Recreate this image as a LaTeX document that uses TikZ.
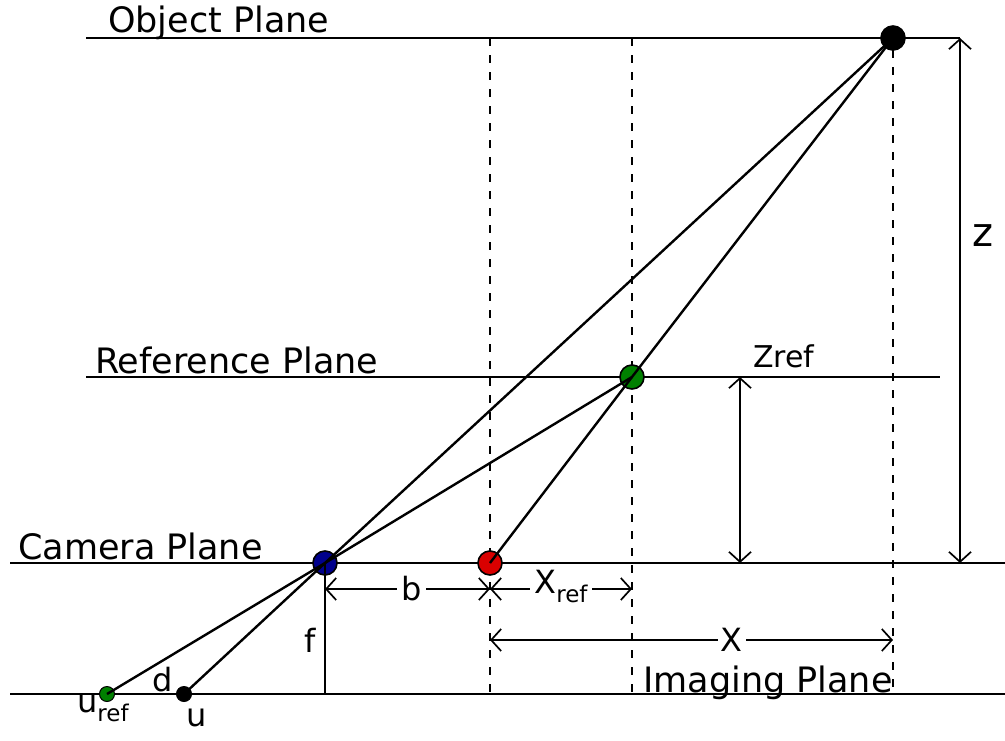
\documentclass[tikz,border=0pt]{standalone}
\usepackage{fontspec}
\setmainfont{DejaVu Sans}
\usetikzlibrary{arrows.meta}

\begin{document}
\begin{tikzpicture}[x=1pt, y=-1pt,
    ebene/.style={line width=2.4pt},
    strahl/.style={line width=2.4pt},
    hilfslinie/.style={line width=2.2pt, dash pattern=on 8pt off 9pt},
    mass/.style={line width=1.7pt, {Straight Barb[length=10pt,width=22pt]}-{Straight Barb[length=10pt,width=22pt]}},
    punkt/.style={circle, draw, line width=1.6pt, minimum size=24pt, inner sep=0pt},
    kleinpunkt/.style={circle, draw, line width=1pt, minimum size=15pt, inner sep=0pt},
    titel/.style={font=\fontsize{35}{42}\selectfont, inner sep=0pt, anchor=base west},
    beschr/.style={font=\fontsize{32}{38}\selectfont, inner sep=0pt}]

    \useasboundingbox (0,0) rectangle (1005,740);

    % Ebenen
    \draw[ebene] (86,38) -- (960,38);
    \draw[ebene] (86,377) -- (940,377);
    \draw[ebene] (10,563) -- (1005,563);
    \draw[ebene] (10,694) -- (1005,694);

    % gestrichelte Senkrechten
    \draw[hilfslinie] (490,38) -- (490,694);
    \draw[hilfslinie] (632,38) -- (632,694);
    \draw[hilfslinie] (893,50) -- (893,694);

    % Punkte
    \node[punkt, fill=black] (obj) at (893,38) {};
    \node[punkt, fill=green!50!black] (ref) at (632,377) {};
    \node[punkt, fill=blue!55!black] (cam) at (325,563) {};
    \node[punkt, fill=red!85!black] (red) at (490,563) {};
    \node[kleinpunkt, fill=green!50!black] (uref) at (107,694) {};
    \node[kleinpunkt, fill=black] (u) at (184,694) {};
    \coordinate (fuss) at (325,694);

    % Strahlen
    \draw[strahl] (obj.center) -- (cam.center) -- (u.center);
    \draw[strahl] (ref.center) -- (cam.center) -- (uref.center);
    \draw[strahl] (obj.center) -- (ref.center) -- (red.center);
    \draw[strahl] (cam.center) -- (fuss);

    % Bemassung
    \coordinate (b1) at (325,589);
    \coordinate (b2) at (490,589);
    \coordinate (b3) at (632,589);
    \coordinate (x1) at (490,640);
    \coordinate (x2) at (893,640);
    \coordinate (zr1) at (740,377);
    \coordinate (zr2) at (740,563);
    \coordinate (z1) at (960,38);
    \coordinate (z2) at (960,563);
    \draw[mass] (b1) -- node[beschr, fill=white, inner xsep=4pt, xshift=4pt] (lb) {b} (b2);
    \draw[mass] (b2) -- node[beschr, fill=white, inner xsep=4pt, yshift=3pt] (lxref) {X\raisebox{-9pt}{\fontsize{23}{25}\selectfont ref}} (b3);
    \draw[mass] (x1) -- node[beschr, fill=white, inner xsep=3pt, pos=0.6] (lx) {X} (x2);
    \draw[mass] (zr1) -- (zr2);
    \draw[mass] (z1) -- (z2);

    % Beschriftungen
    \node[titel] (tobj) at (108,32) {Object Plane};
    \node[titel] (tref) at (95,373) {Reference Plane};
    \node[titel] (tcam) at (18,559) {Camera Plane};
    \node[titel] (timg) at (643,692) {Imaging Plane};
    \node[beschr, font=\fontsize{30}{36}\selectfont, anchor=base west] (lzref) at (753,367) {Zref};
    \node[beschr, font=\fontsize{40}{46}\selectfont] (lz) at (983,236) {z};
    \node[beschr] (lf) at (310,640) {f};
    \node[beschr] (ld) at (163,680) {d};
    \node[beschr, anchor=base west] (lu) at (186,726) {u};
    \node[beschr, anchor=base west] (luref) at (77,712) {u\raisebox{-9pt}{\fontsize{23}{25}\selectfont ref}};
\end{tikzpicture}
\end{document}
